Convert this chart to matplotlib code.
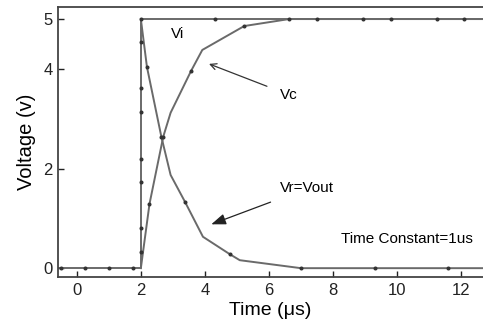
import matplotlib.pyplot as plt

plt.rcParams['font.family'] = ['Liberation Sans', 'DejaVu Sans']

# Vi: step input
vi_t = [-0.6, 2.0, 2.0, 12.8]
vi_v = [0.0, 0.0, 5.0, 5.0]
vi_mt = [-0.5, 0.25, 1.0, 1.75, 2.0, 2.0, 2.0, 2.0, 2.0, 2.0, 2.0, 2.0, 4.31, 7.5, 8.93, 9.8, 11.24, 12.1]
vi_mv = [0, 0, 0, 0, 0.33, 0.8, 1.73, 2.2, 3.14, 3.61, 4.54, 5.0, 5, 5, 5, 5, 5, 5]

# Vc: capacitor voltage
vc_t = [2.0, 2.27, 2.7, 2.93, 3.57, 3.92, 5.23, 6.63, 12.8]
vc_v = [0.0, 1.29, 2.64, 3.12, 3.96, 4.38, 4.86, 5.0, 5.0]
vc_mt = [2.27, 2.7, 3.57, 5.23, 6.63]
vc_mv = [1.29, 2.64, 3.96, 4.86, 5.0]

# Vr = Vout: resistor voltage
vr_t = [2.0, 2.19, 2.64, 2.93, 3.38, 3.94, 4.78, 5.09, 7.0, 12.8]
vr_v = [5.0, 4.04, 2.64, 1.87, 1.33, 0.63, 0.28, 0.16, 0.0, 0.0]
vr_mt = [2.19, 2.64, 3.38, 4.78, 7.0, 9.31, 11.6]
vr_mv = [4.04, 2.64, 1.33, 0.28, 0.0, 0.0, 0.0]

fig = plt.figure(figsize=(4.83, 3.23), dpi=100)
ax = fig.add_axes([0.120, 0.142, 0.88, 0.836])

lc = '#6a6a6a'
for t, v in [(vi_t, vi_v), (vc_t, vc_v), (vr_t, vr_v)]:
    ax.plot(t, v, color=lc, lw=1.4)
for t, v in [(vi_mt, vi_mv), (vc_mt, vc_mv), (vr_mt, vr_mv)]:
    ax.plot(t, v, 'o', color='#333333', ms=1.9, ls='none')

ax.set_xlim(-0.59, 12.69)
ax.set_ylim(-0.18, 5.24)
ax.set_xticks([0, 2, 4, 6, 8, 10, 12])
ax.set_yticks([0, 2, 4, 5])
ax.tick_params(direction='in', length=4, width=1, labelsize=12, colors='#222222', pad=4)
for s in ['left', 'bottom', 'top']:
    ax.spines[s].set_linewidth(1.3)
    ax.spines[s].set_color('#444444')
ax.spines['right'].set_visible(False)

ax.set_xlabel('Time (\u03bcs)', fontsize=14, labelpad=3)
ax.set_ylabel('Voltage (v)', fontsize=14.5, labelpad=5)

ax.text(2.95, 4.7, 'Vi', fontsize=11, va='center')
ax.annotate('Vc', xy=(4.13, 4.1), xytext=(6.35, 3.48), fontsize=11, va='center',
            arrowprops=dict(arrowstyle='->', color='#333333', lw=0.9, shrinkA=8, shrinkB=0))
ax.annotate('Vr=Vout', xy=(4.2, 0.88), xytext=(6.35, 1.6), fontsize=11, va='center',
            arrowprops=dict(arrowstyle='-|>,head_length=0.8,head_width=0.3', color='#222222',
                            lw=0.9, shrinkA=8, shrinkB=0))
ax.text(8.25, 0.58, 'Time Constant=1us', fontsize=11, va='center')

fig.savefig('out.png', dpi=100)
